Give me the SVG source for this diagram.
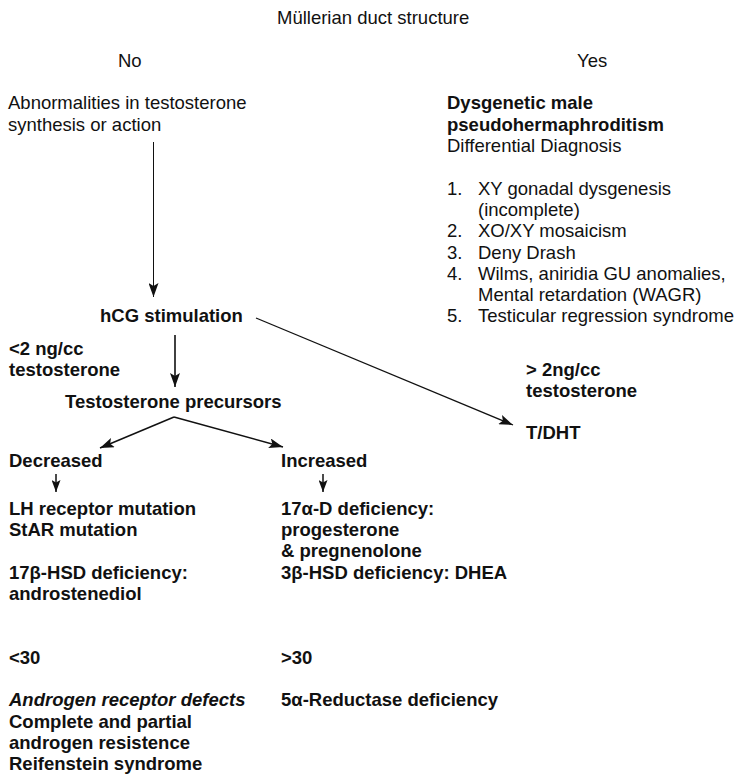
<svg xmlns="http://www.w3.org/2000/svg" width="737" height="774" viewBox="0 0 737 774">
<style>
text{font-family:"Liberation Sans",Arial,Helvetica,sans-serif;font-size:18.5px;fill:#111}
.b{font-weight:bold}
.bi{font-weight:bold;font-style:italic}
.ln{stroke:#111;fill:none}
</style>
<defs>
<marker id="ah" viewBox="0 0 14 10" refX="14" refY="5" markerWidth="14" markerHeight="10" markerUnits="userSpaceOnUse" orient="auto">
<path d="M0,0 L14,5 L0,10 L3,5 Z" fill="#111"/>
</marker>
<marker id="ahs" viewBox="0 0 12 9" refX="12" refY="4.5" markerWidth="12" markerHeight="9" markerUnits="userSpaceOnUse" orient="auto">
<path d="M0,0 L12,4.5 L0,9 L2.5,4.5 Z" fill="#111"/>
</marker>
</defs>
<rect width="737" height="774" fill="#fff"/>
<g id="title"><text x="277" y="23.5">Müllerian duct structure</text></g>
<g id="no"><text x="118" y="66.5">No</text></g>
<g id="yes"><text x="577" y="66.5">Yes</text></g>
<g id="abnormalities"><text x="8" y="109">Abnormalities in testosterone</text><text x="8" y="130.5">synthesis or action</text></g>
<g id="dysgenetic">
<text class="b" x="447" y="109">Dysgenetic male</text>
<text class="b" x="447" y="131">pseudohermaphroditism</text>
<text x="447" y="152">Differential Diagnosis</text>
<text x="447" y="195">1.</text><text x="478" y="195">XY gonadal dysgenesis</text>
<text x="478" y="216">(incomplete)</text>
<text x="447" y="237">2.</text><text x="478" y="237">XO/XY mosaicism</text>
<text x="447" y="259">3.</text><text x="478" y="259">Deny Drash</text>
<text x="447" y="280">4.</text><text x="478" y="280">Wilms, aniridia GU anomalies,</text>
<text x="478" y="301">Mental retardation (WAGR)</text>
<text x="447" y="322">5.</text><text x="478" y="322">Testicular regression syndrome</text>
</g>
<g id="hcg"><text class="b" x="100" y="322">hCG stimulation</text></g>
<g id="lt2"><text class="b" x="9" y="355">&lt;2 ng/cc</text><text class="b" x="9" y="376">testosterone</text></g>
<g id="gt2"><text class="b" x="526" y="376">&gt; 2ng/cc</text><text class="b" x="526" y="397">testosterone</text></g>
<g id="precursors"><text class="b" x="65" y="408">Testosterone precursors</text></g>
<g id="tdht"><text class="b" x="526" y="439">T/DHT</text></g>
<g id="decreased"><text class="b" x="9" y="467">Decreased</text></g>
<g id="increased"><text class="b" x="281" y="467">Increased</text></g>
<g id="decreased-causes">
<text class="b" x="9" y="515">LH receptor mutation</text>
<text class="b" x="9" y="536">StAR mutation</text>
<text class="b" x="9" y="579">17β-HSD deficiency:</text>
<text class="b" x="9" y="600">androstenediol</text>
</g>
<g id="increased-causes">
<text class="b" x="281" y="515">17α-D deficiency:</text>
<text class="b" x="281" y="536">progesterone</text>
<text class="b" x="281" y="557">&amp; pregnenolone</text>
<text class="b" x="281" y="579">3β-HSD deficiency: DHEA</text>
</g>
<g id="lt30"><text class="b" x="9" y="664">&lt;30</text></g>
<g id="gt30"><text class="b" x="281" y="664">&gt;30</text></g>
<g id="androgen-receptor">
<text class="bi" x="9" y="706">Androgen receptor defects</text>
<text class="b" x="9" y="728">Complete and partial</text>
<text class="b" x="9" y="749">androgen resistence</text>
<text class="b" x="9" y="770">Reifenstein syndrome</text>
</g>
<g id="reductase"><text class="b" x="281" y="706">5α-Reductase deficiency</text></g>
<g id="connectors">
<line class="ln" x1="153.5" y1="142" x2="153.5" y2="297" stroke-width="1" marker-end="url(#ah)"/>
<line class="ln" x1="256" y1="318" x2="513" y2="425" stroke-width="1.3" marker-end="url(#ah)"/>
<line class="ln" x1="175" y1="335" x2="175" y2="387" stroke-width="1.6" marker-end="url(#ah)"/>
<line class="ln" x1="174" y1="417" x2="100" y2="448" stroke-width="1.5" marker-end="url(#ah)"/>
<line class="ln" x1="174" y1="417" x2="283" y2="447" stroke-width="1.5" marker-end="url(#ah)"/>
<line class="ln" x1="56" y1="474" x2="56" y2="492" stroke-width="1.5" marker-end="url(#ahs)"/>
<line class="ln" x1="323" y1="474" x2="323" y2="492" stroke-width="1.5" marker-end="url(#ahs)"/>
</g>
</svg>
